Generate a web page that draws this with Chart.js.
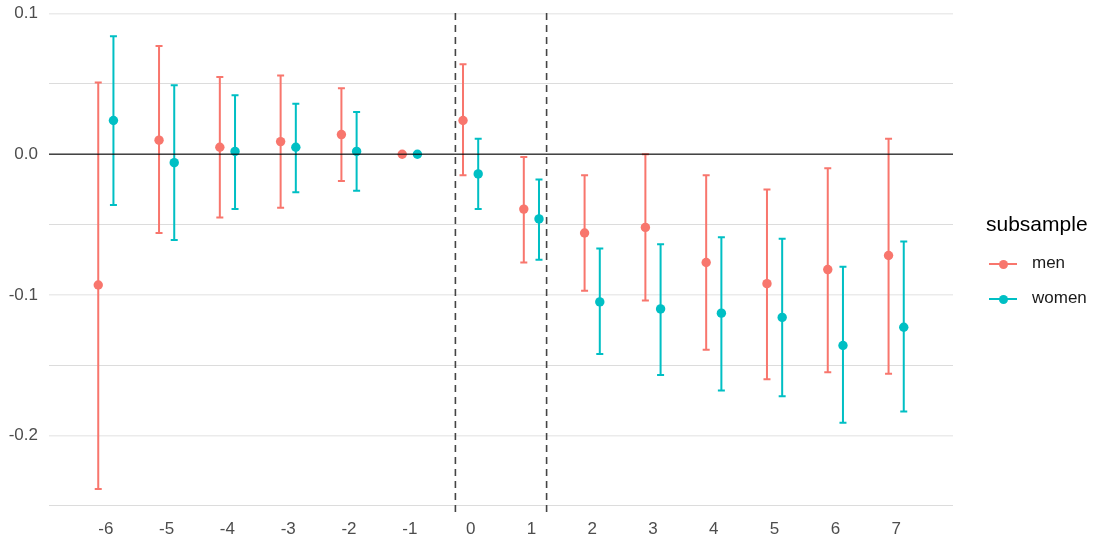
<!DOCTYPE html>
<html>
<head>
<meta charset="utf-8">
<script src="https://cdn.jsdelivr.net/npm/chart.js@4/dist/chart.umd.min.js"></script>
<style>
  html, body { margin: 0; padding: 0; background: #fff; }
  #wrap { position: relative; width: 1098px; height: 542px; font-family: "Liberation Sans", Arial, sans-serif; }
  #c { position: absolute; left: 0; top: 0; }
  .legend-title { position: absolute; left: 986px; top: 211px; font-size: 21px; color: #000; line-height: 26px; }
  .legend-item { position: absolute; left: 989px; height: 20px; }
  .legend-item .key { position: absolute; left: 0; top: 9px; width: 28px; height: 2px; }
  .legend-item .dot { position: absolute; left: 9.5px; top: 5.5px; width: 9px; height: 9px; border-radius: 50%; }
  .legend-item .lab { position: absolute; left: 43px; top: -1px; font-size: 17px; color: #1a1a1a; line-height: 20px; white-space: nowrap; }
</style>
</head>
<body>
<div id="wrap">
  <canvas id="c" width="1098" height="542"></canvas>
  <div class="legend-title">subsample</div>
  <div class="legend-item" style="top:254px"><div class="key" style="background:#F8766D"></div><div class="dot" style="background:#F8766D"></div><div class="lab">men</div></div>
  <div class="legend-item" style="top:289px"><div class="key" style="background:#00BFC4"></div><div class="dot" style="background:#00BFC4"></div><div class="lab">women</div></div>
</div>
<script>
// ---- data ----
const periods = [-6, -5, -4, -3, -2, -1, 0, 1, 2, 3, 4, 5, 6, 7];
const menEst   = [-0.093, 0.010, 0.005, 0.009, 0.014, 0, 0.024, -0.039, -0.056, -0.052, -0.077, -0.092, -0.082, -0.072];
const menLo    = [-0.238, -0.056, -0.045, -0.038, -0.019, 0, -0.015, -0.077, -0.097, -0.104, -0.139, -0.160, -0.155, -0.156];
const menHi    = [0.051, 0.077, 0.055, 0.056, 0.047, 0, 0.064, -0.002, -0.015, 0.000, -0.015, -0.025, -0.010, 0.011];
const womenEst = [0.024, -0.006, 0.002, 0.005, 0.002, 0, -0.014, -0.046, -0.105, -0.110, -0.113, -0.116, -0.136, -0.123];
const womenLo  = [-0.036, -0.061, -0.039, -0.027, -0.026, 0, -0.039, -0.075, -0.142, -0.157, -0.168, -0.172, -0.191, -0.183];
const womenHi  = [0.084, 0.049, 0.042, 0.036, 0.030, 0, 0.011, -0.018, -0.067, -0.064, -0.059, -0.060, -0.080, -0.062];
const seriesNames = ['men', 'women'];
const yTickValues = [0.1, 0.05, 0, -0.05, -0.1, -0.15, -0.2, -0.25];
const yTickLabels = ['0.1', '', '0.0', '', '-0.1', '', '-0.2', ''];
const xTickLabels = ['-6', '-5', '-4', '-3', '-2', '-1', '0', '1', '2', '3', '4', '5', '6', '7'];
const refLines = [-0.25, 1.25];
const hLine = 0;

// ---- styling / layout ----
const colors = ['#F8766D', '#00BFC4'];
const dodge = 0.125;
const xMin = -6.935, xMax = 7.935;
const yMin = -0.2544, yMax = 0.1040;
const FONT = '"Liberation Sans", Arial, sans-serif';

function mkData(est, off) {
  return periods.map((p, i) => ({ x: p + off, y: est[i] }));
}
const bars = [
  { est: menEst, lo: menLo, hi: menHi, off: -dodge, color: colors[0] },
  { est: womenEst, lo: womenLo, hi: womenHi, off: dodge, color: colors[1] }
];

const errorBarPlugin = {
  id: 'errorBars',
  beforeDatasetsDraw(chart) {
    const ctx = chart.ctx, xs = chart.scales.x, ys = chart.scales.y;
    ctx.save();
    ctx.lineWidth = 2;
    bars.forEach(b => {
      ctx.strokeStyle = b.color;
      periods.forEach((p, i) => {
        if (b.lo[i] === b.hi[i]) return;
        const x = xs.getPixelForValue(p + b.off);
        const y1 = ys.getPixelForValue(b.lo[i]);
        const y2 = ys.getPixelForValue(b.hi[i]);
        ctx.beginPath();
        ctx.moveTo(x, y1); ctx.lineTo(x, y2);
        ctx.moveTo(x - 3.5, y1); ctx.lineTo(x + 3.5, y1);
        ctx.moveTo(x - 3.5, y2); ctx.lineTo(x + 3.5, y2);
        ctx.stroke();
      });
    });
    ctx.restore();
  },
  afterDatasetsDraw(chart) {
    const ctx = chart.ctx, xs = chart.scales.x, ys = chart.scales.y, a = chart.chartArea;
    ctx.save();
    const yz = ys.getPixelForValue(hLine);
    ctx.strokeStyle = 'rgba(0,0,0,0.72)';
    ctx.lineWidth = 1.6;
    ctx.beginPath(); ctx.moveTo(a.left, yz); ctx.lineTo(a.right, yz); ctx.stroke();
    ctx.strokeStyle = '#444444';
    ctx.lineWidth = 1.6;
    ctx.setLineDash([7, 5]);
    refLines.forEach(v => {
      const x = xs.getPixelForValue(v);
      ctx.beginPath(); ctx.moveTo(x, a.bottom); ctx.lineTo(x, a.top); ctx.stroke();
    });
    ctx.restore();
  }
};

new Chart(document.getElementById('c'), {
  type: 'scatter',
  data: {
    datasets: [
      { label: seriesNames[0], data: mkData(menEst, -dodge), backgroundColor: colors[0], borderWidth: 0, pointRadius: 4.7, pointHoverRadius: 4.7 },
      { label: seriesNames[1], data: mkData(womenEst, dodge), backgroundColor: colors[1], borderWidth: 0, pointRadius: 4.7, pointHoverRadius: 4.7 }
    ]
  },
  options: {
    responsive: false,
    animation: false,
    layout: { padding: { left: 0, right: 145, top: 8, bottom: 0 } },
    plugins: { legend: { display: false }, tooltip: { enabled: false } },
    scales: {
      x: {
        type: 'linear', min: xMin, max: xMax,
        afterBuildTicks(s) { s.ticks = periods.map(v => ({ value: v })); },
        afterFit(s) { s.height = 30; s.paddingLeft = 0; s.paddingRight = 0; },
        grid: { display: false, drawTicks: false },
        border: { display: false },
        ticks: {
          padding: 7, color: '#4D4D4D', font: { family: FONT, size: 17 },
          maxRotation: 0, autoSkip: false,
          callback(v) { const i = periods.indexOf(v); return i >= 0 ? xTickLabels[i] : ''; }
        }
      },
      y: {
        type: 'linear', min: yMin, max: yMax,
        afterBuildTicks(s) { s.ticks = yTickValues.map(v => ({ value: v })); },
        afterFit(s) { s.width = 49; s.paddingTop = 0; s.paddingBottom = 0; },
        grid: {
          drawTicks: false,
          color(c) { const v = c.tick.value; return Math.abs(v * 10 - Math.round(v * 10)) < 1e-6 ? '#EBEBEB' : '#DCDCDC'; },
          lineWidth(c) { const v = c.tick.value; return Math.abs(v * 10 - Math.round(v * 10)) < 1e-6 ? 1.6 : 1; }
        },
        border: { display: false },
        ticks: {
          padding: 11, color: '#4D4D4D', font: { family: FONT, size: 17 }, autoSkip: false,
          callback(v) { const i = yTickValues.findIndex(t => Math.abs(t - v) < 1e-9); return i >= 0 ? yTickLabels[i] : ''; }
        }
      }
    }
  },
  plugins: [errorBarPlugin]
});
</script>
</body>
</html>
